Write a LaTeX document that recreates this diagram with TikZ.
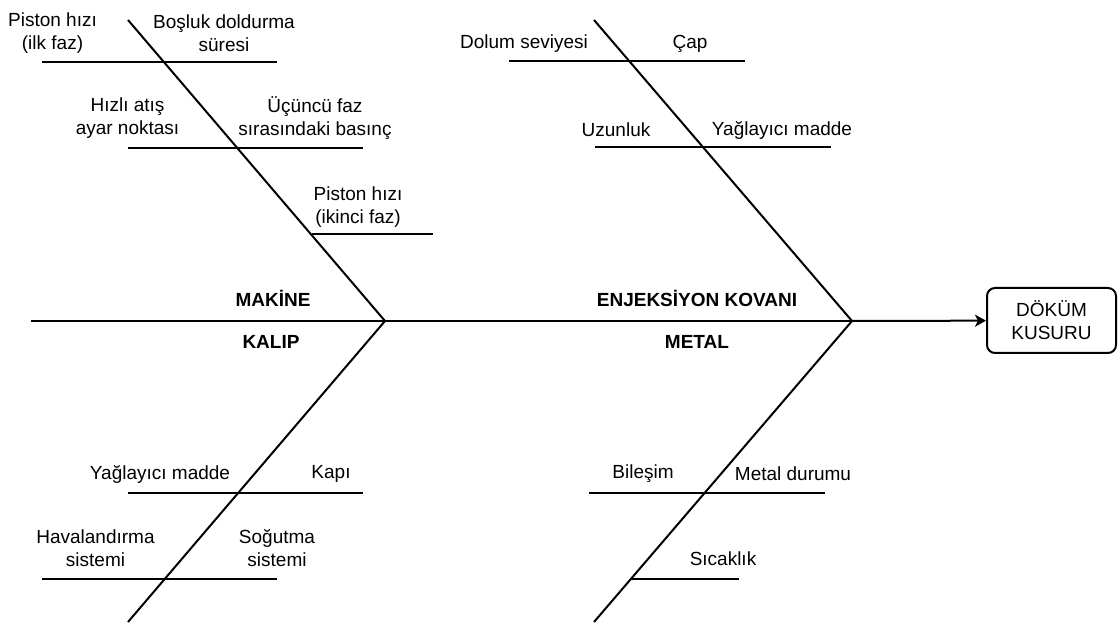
\documentclass[tikz,border=0pt]{standalone}
\usepackage{fontspec}
\setmainfont{Liberation Sans}
\usetikzlibrary{arrows.meta}
\begin{document}
\begin{tikzpicture}[x=0.5pt,y=-0.5pt,line width=1pt,
    cause/.style={align=center,font=\fontsize{9.5}{11.5}\selectfont},
    category/.style={font=\bfseries\fontsize{9.5}{11.5}\selectfont}]
\useasboundingbox (0,0) rectangle (1118,624);
\node (effect) [draw,rounded corners=4pt,minimum width=64.5pt,minimum height=32.5pt,cause] at (1051.5,320.5) {DÖKÜM\\KUSURU};
\coordinate (tail) at (31,321);
\coordinate (j1) at (385,321);
\coordinate (j2) at (852,321);
\coordinate (ul) at (128,20);
\coordinate (ll) at (128,622);
\coordinate (ur) at (594,20);
\coordinate (lr) at (594,622);
\draw (tail) -- (j1) -- (j2);
\draw [-{Stealth[length=5.5pt,width=6pt,inset=1.5pt]}] (j2) -- (effect);
\draw (ul) -- (j1) -- (ll);
\draw (ur) -- (j2) -- (lr);
\draw (42,62) -- (277,62);
\draw (128,148) -- (363,148);
\draw (312,234) -- (433,234);
\draw (509,61) -- (745,61);
\draw (595,147) -- (831,147);
\draw (128,493) -- (363,493);
\draw (42,579) -- (277,579);
\draw (589,493) -- (825,493);
\draw (631,579) -- (739,579);
\node (makine) [category] at (273,298) {MAKİNE};
\node (kalip) [category] at (271,342) {KALIP};
\node (kovan) [category] at (697,298) {ENJEKSİYON KOVANI};
\node (metal) [category] at (697,342) {METAL};
\node (pistonilk) [cause] at (52.5,33.5) {Piston hızı\\(ilk faz)};
\node (bosluk) [cause] at (224,33.5) {Boşluk doldurma\\süresi};
\node (hizliatis) [cause] at (127.5,118.5) {Hızlı atış\\ayar noktası};
\node (ucuncufaz) [cause] at (315,118.5) {Üçüncü faz\\sırasındaki basınç};
\node (pistonikinci) [cause] at (358,207.5) {Piston hızı\\(ikinci faz)};
\node (dolum) [cause] at (524,44) {Dolum seviyesi};
\node (cap) [cause] at (690,44) {Çap};
\node (uzunluk) [cause] at (616,130) {Uzunluk};
\node (yaglayicikovan) [cause] at (782,130) {Yağlayıcı madde};
\node (yaglayicikalip) [cause] at (160,474) {Yağlayıcı madde};
\node (kapi) [cause] at (331,474) {Kapı};
\node (havalandirma) [cause] at (95.5,548) {Havalandırma\\sistemi};
\node (sogutma) [cause] at (277,548) {Soğutma\\sistemi};
\node (bilesim) [cause] at (643,474) {Bileşim};
\node (metaldurumu) [cause] at (793,474) {Metal durumu};
\node (sicaklik) [cause] at (723,559) {Sıcaklık};
\end{tikzpicture}
\end{document}
